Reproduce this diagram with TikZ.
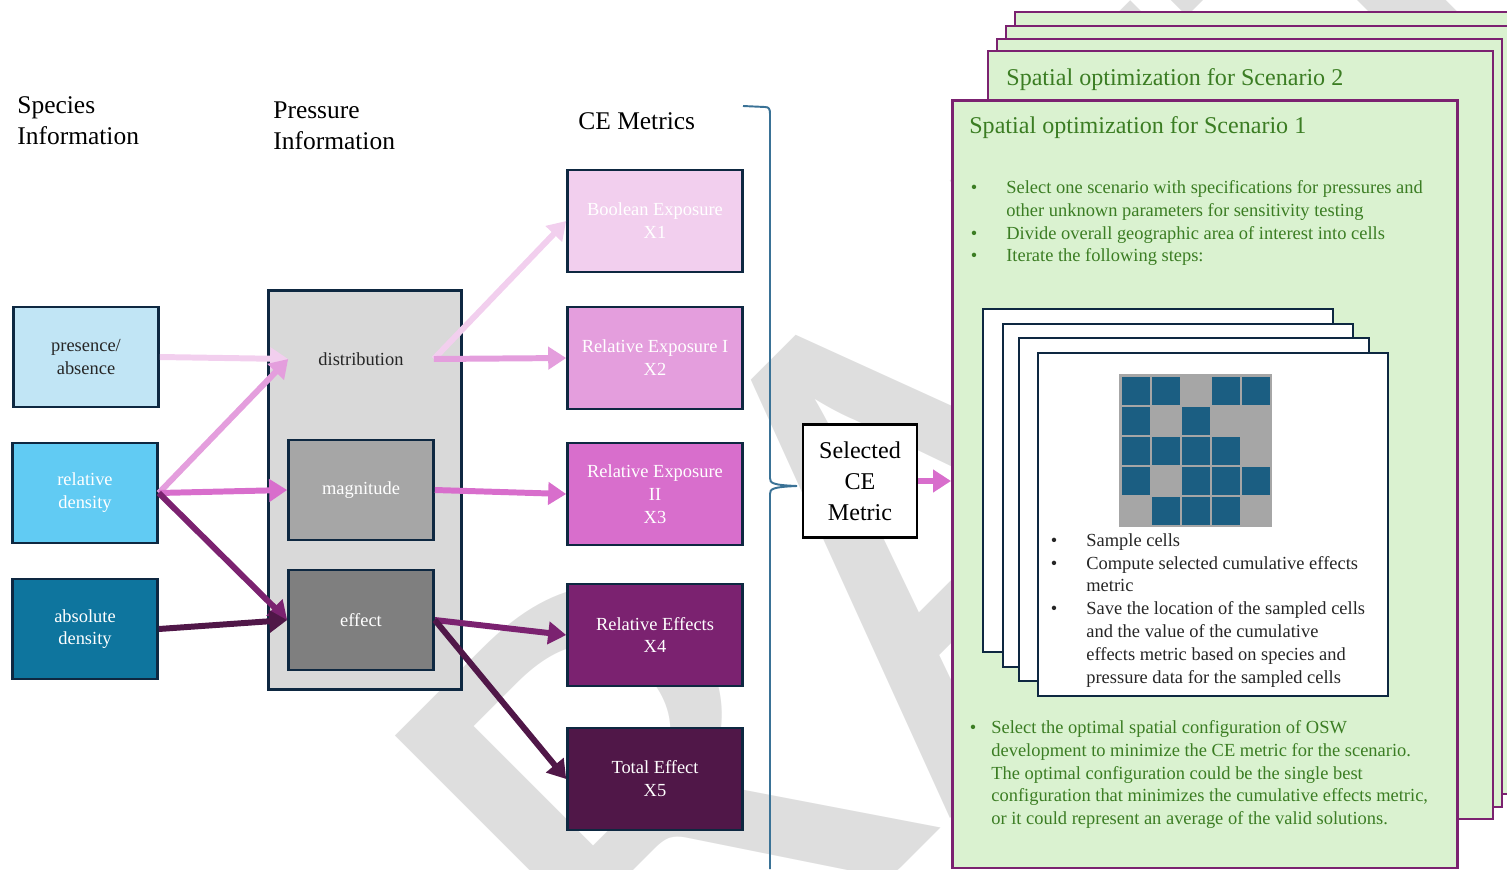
\documentclass[tikz,border=0pt]{standalone}
\usepackage{fontspec}
\setmainfont{Liberation Serif}
\newfontfamily\wmfont{Carlito}
\usetikzlibrary{arrows.meta}

\definecolor{navy}{HTML}{0E2841}
\definecolor{spA}{HTML}{C1E5F5}
\definecolor{spB}{HTML}{61CBF3}
\definecolor{spC}{HTML}{0E759E}
\definecolor{prA}{HTML}{D9D9D9}
\definecolor{prB}{HTML}{A6A6A6}
\definecolor{prC}{HTML}{7F7F7F}
\definecolor{ceA}{HTML}{F2CFEE}
\definecolor{ceB}{HTML}{E49EDD}
\definecolor{ceC}{HTML}{D86ECC}
\definecolor{ceD}{HTML}{7B2270}
\definecolor{ceE}{HTML}{501748}
\definecolor{optfill}{HTML}{DAF2D0}
\definecolor{opttext}{HTML}{3B7D23}
\definecolor{gridblue}{HTML}{1B5E82}
\definecolor{bracecol}{HTML}{3A7296}
\definecolor{wmgray}{HTML}{DEDEDE}

\newcommand{\smalltext}{\fontsize{10.5}{13}\selectfont}
\newcommand{\headtext}{\fontsize{14.5}{17.6}\selectfont}
\newcommand{\bul}[1][0.58cm]{\llap{\textbullet\hspace{#1}}}

\begin{document}
\begin{tikzpicture}[x=0.02cm, y=-0.02cm,
    box/.style={draw=navy, line width=1.5pt, minimum width=2.9cm, minimum height=2cm, align=center, font=\smalltext},
    cebox/.style={box, minimum width=3.5cm, minimum height=2.04cm, text=white},
    conn/.style={line width=3.4pt, -{Triangle[length=0.36cm, width=0.44cm]}},
    panel/.style={draw=ceD, line width=1.5pt, fill=optfill},
    card/.style={draw=navy, line width=1.5pt, fill=white},
    bullets/.style={anchor=north west, align=left, inner sep=0pt, font=\smalltext}]

    \useasboundingbox (0,0) rectangle (1507,869);

    \node[rotate=45, text=wmgray, inner sep=0pt, font=\wmfont\fontsize{400}{400}\selectfont] (wm) at (880,570) {DRAFT};

    \node[anchor=west, align=left, inner sep=0pt, font=\headtext] (H1) at (17,121) {Species\\Information};
    \node[anchor=west, align=left, inner sep=0pt, font=\headtext] (H2) at (273,126) {Pressure\\Information};
    \node[anchor=west, inner sep=0pt, font=\headtext] (H3) at (578,121) {CE Metrics};

    \node[box, fill=spA, text=black!85] (S1) at (86,357) {presence/\\absence};
    \node[box, fill=spB, text=white] (S2) at (85,493) {relative\\density};
    \node[box, fill=spC, text=white] (S3) at (85,629) {absolute\\density};

    \node[box, fill=prA, minimum width=3.86cm, minimum height=7.98cm] (P) at (365,490) {};
    \node[font=\smalltext, minimum width=2.9cm, text=black!85] (P1) at (361,359) {distribution};
    \node[box, fill=prB, text=white] (P2) at (361,490) {magnitude};
    \node[box, fill=prC, text=white] (P3) at (361,620) {effect};

    \node[cebox, fill=ceA] (X1) at (655,221) {Boolean Exposure\\X1};
    \node[cebox, fill=ceB] (X2) at (655,358) {Relative Exposure I\\X2};
    \node[cebox, fill=ceC] (X3) at (655,494) {Relative Exposure\\II\\X3};
    \node[cebox, fill=ceD] (X4) at (655,635) {Relative Effects\\X4};
    \node[cebox, fill=ceE] (X5) at (655,779) {Total Effect\\X5};

    \draw[conn, ceA] (S1.east) -- (P1.west);
    \draw[conn, ceB] (S2.east) -- (P1.west);
    \draw[conn, ceC] (S2.east) -- (P2.west);
    \draw[conn, ceD] (S2.east) -- (P3.west);
    \draw[conn, ceE] (S3.east) -- (P3.west);
    \draw[conn, ceA] (P1.east) -- (X1.west);
    \draw[conn, ceB] (P1.east) -- (X2.west);
    \draw[conn, ceC] (P2.east) -- (X3.west);
    \draw[conn, ceD] (P3.east) -- (X4.west);
    \draw[conn, ceE] (P3.east) -- (X5.west);

    \draw[bracecol, line width=1.1pt] (743,106) -- (765,107) .. controls (769,107) and (770,109) .. (770,114)
        -- (770,478) .. controls (770,483) and (772,485) .. (797,486)
        .. controls (772,487) and (770,489) .. (770,494) -- (770,869);

    \node[box, draw=black, fill=white, minimum width=2.28cm, minimum height=2.26cm, font=\fontsize{13.7}{17.6}\selectfont] (sel) at (860,481) {Selected\\CE\\Metric};

    \foreach \dx/\dy in {64/-87, 55/-73, 46/-60, 37/-48}
        \draw[panel] (951+\dx,99+\dy) rectangle ++(505,768);
    \node[panel, anchor=north west, minimum width=10.1cm, minimum height=15.36cm] (sc1) at (951,99) {};

    \draw[conn, ceC] (sel.east) -- (sel.east -| sc1.west);

    \node[anchor=west, inner sep=0pt, text=opttext, font=\fontsize{13.7}{16}\selectfont] (T2) at (1006,80) {Spatial optimization for Scenario 2};
    \node[anchor=west, inner sep=0pt, text=opttext, font=\fontsize{13.7}{16}\selectfont] (T1) at (969,128) {Spatial optimization for Scenario 1};

    \node[bullets, text=opttext] (B1) at (1006,180) {\bul Select one scenario with specifications for pressures and\\
        other unknown parameters for sensitivity testing\\
        \bul Divide overall geographic area of interest into cells\\
        \bul Iterate the following steps:};

    \foreach \x/\y in {983/309, 1003/324, 1019/338, 1038/353}
        \draw[card] (\x,\y) rectangle ++(350,343);

    \fill[prB] (1119,374) rectangle (1272,527);
    \foreach \row [count=\j from 0] in {{1,1,0,1,1},{1,0,1,0,0},{1,1,1,1,0},{1,0,1,1,1},{0,1,1,1,0}}
        \foreach \v [count=\i from 0] in \row {
            \ifnum\v=1 \fill[gridblue] (1122+30*\i,377+30*\j) rectangle ++(28,28); \fi
        }

    \node[bullets, text=black!85] (B2) at (1086,533) {\bul Sample cells\\
        \bul Compute selected cumulative effects\\
        metric\\
        \bul Save the location of the sampled cells\\
        and the value of the cumulative\\
        effects metric based on species and\\
        pressure data for the sampled cells};

    \node[bullets, text=opttext] (B3) at (991,720) {\bul[0.3cm]Select the optimal spatial configuration of OSW\\
        development to minimize the CE metric for the scenario.\\
        The optimal configuration could be the single best\\
        configuration that minimizes the cumulative effects metric,\\
        or it could represent an average of the valid solutions.};

\end{tikzpicture}
\end{document}
